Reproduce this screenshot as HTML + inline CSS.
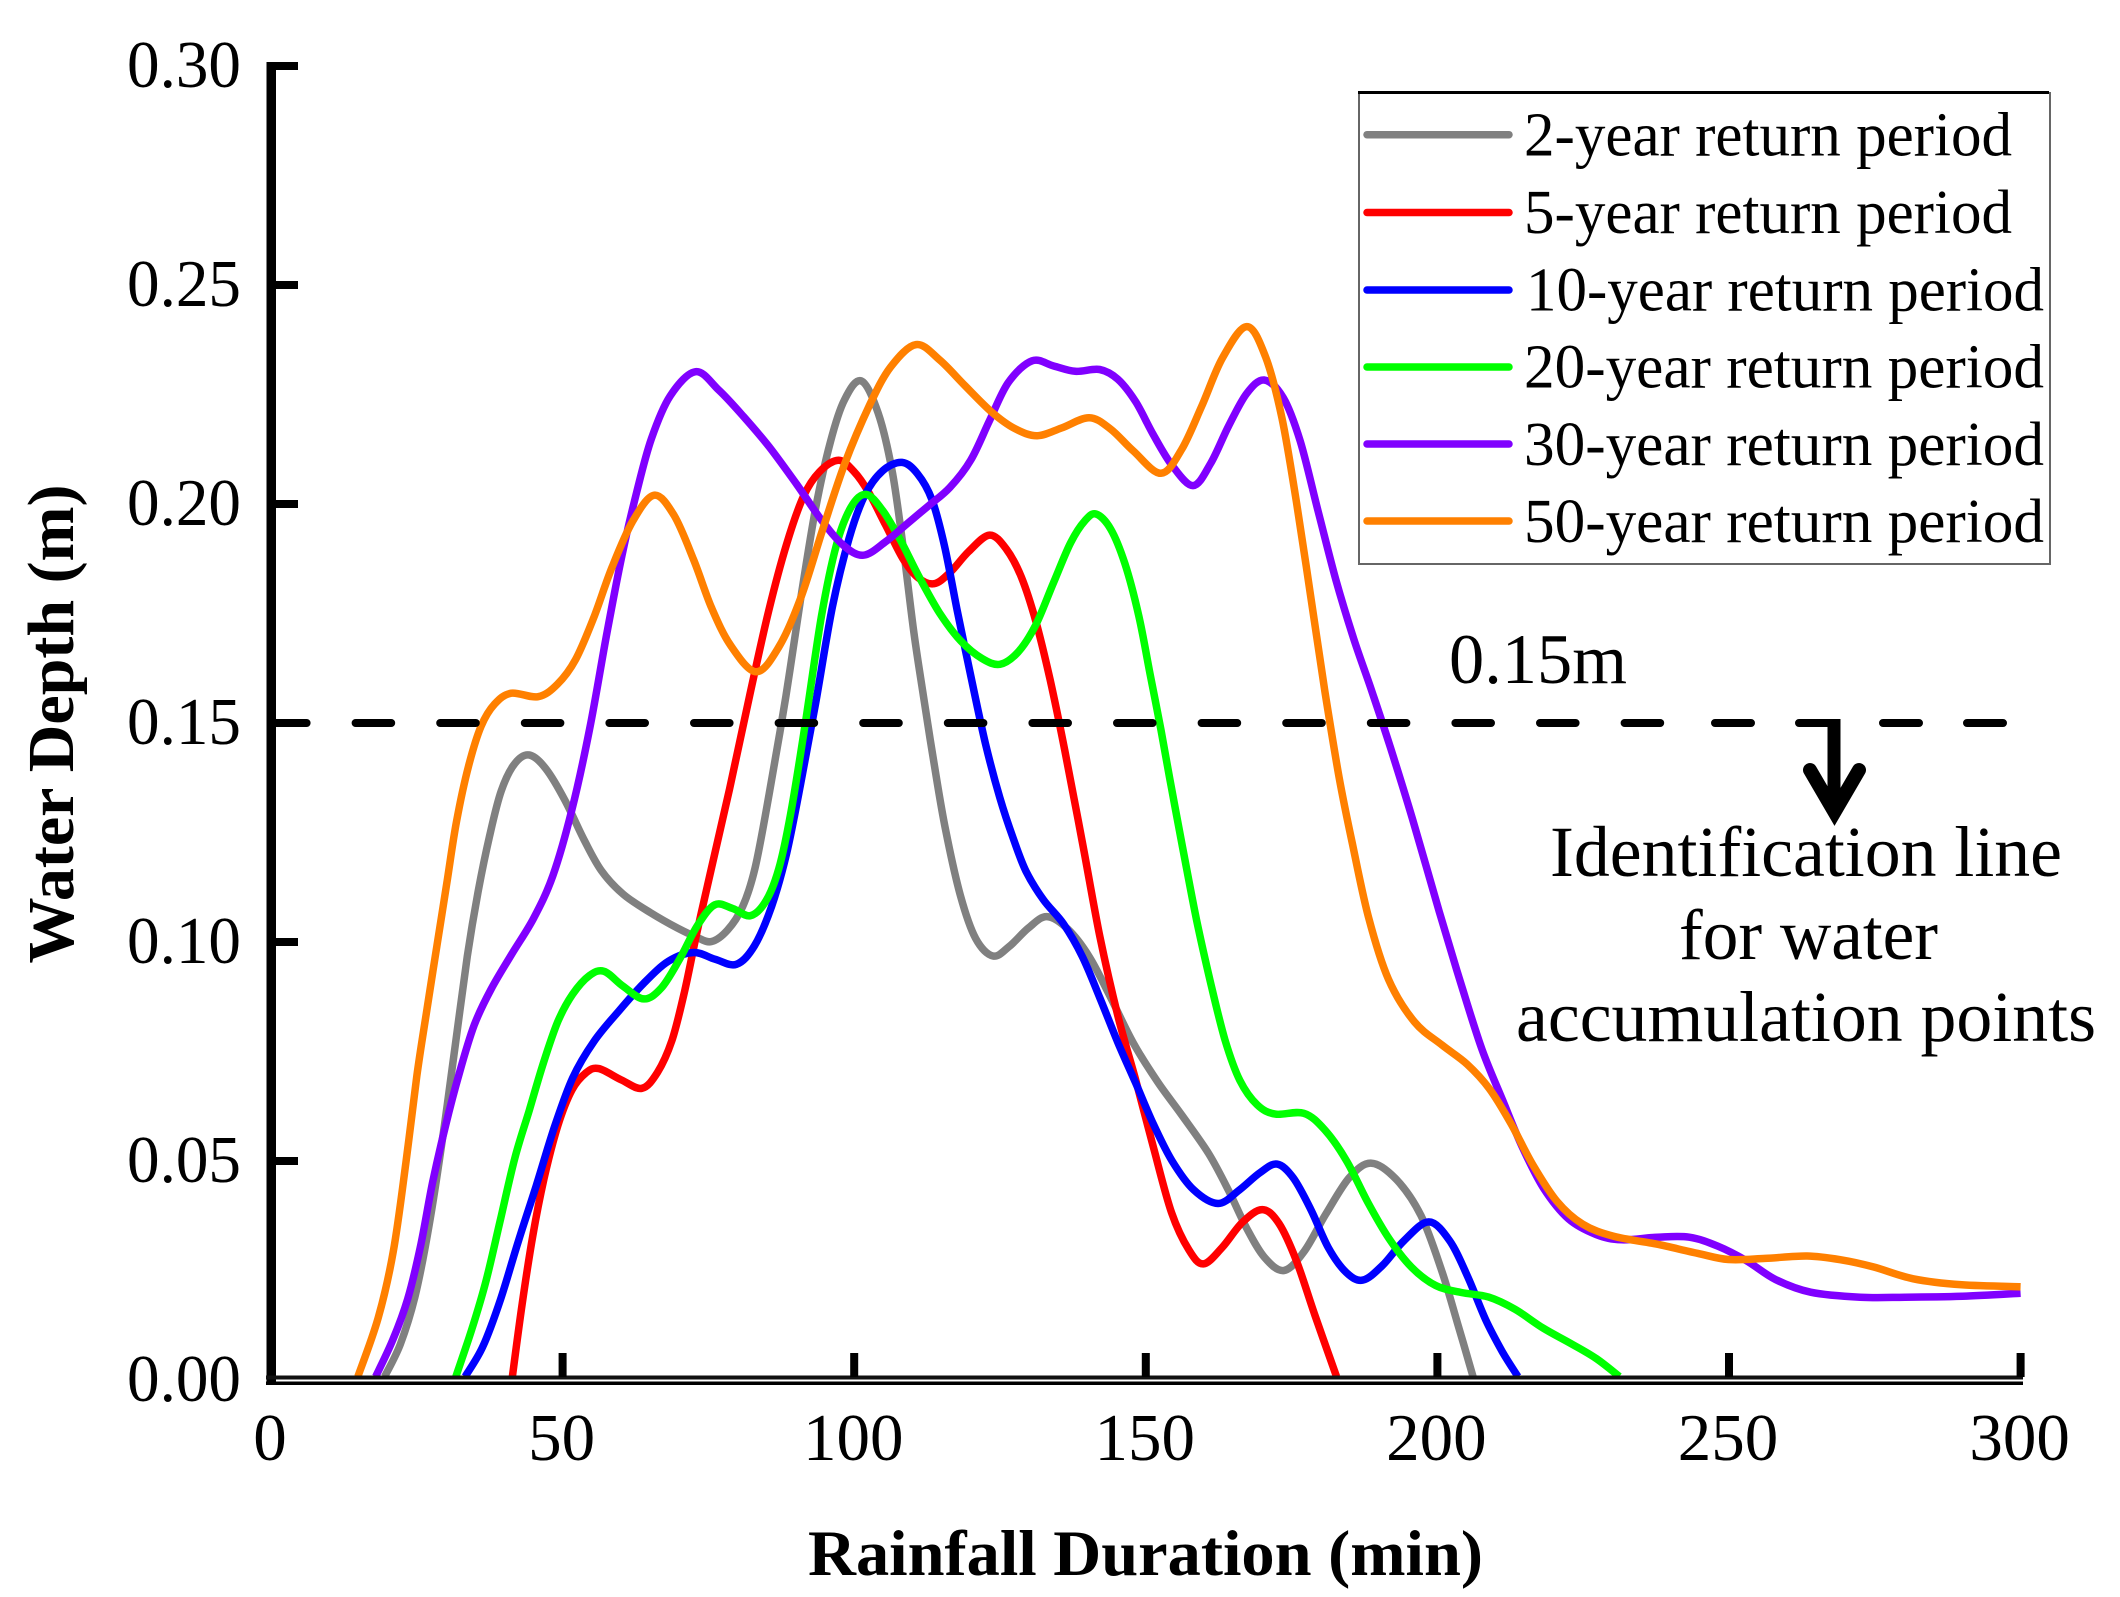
<!DOCTYPE html>
<html lang="en">
<head>
<meta charset="utf-8">
<title>Water Depth vs Rainfall Duration</title>
<style>
html,body{margin:0;padding:0;background:#fff;}
svg{display:block;}
text{font-family:"Liberation Serif",serif;fill:#000;}
</style>
</head>
<body>
<svg id="chart" xmlns="http://www.w3.org/2000/svg" width="2120" height="1597" viewBox="0 0 2120 1597">
  <rect x="0" y="0" width="2120" height="1597" fill="#fff"/>
  <g id="series" fill="none" stroke-width="7.5" stroke-linejoin="round" stroke-linecap="butt"></g>
  <g id="threshold"></g>
  <g id="axes"></g>

  <text x="808" y="1575" font-size="65" font-weight="bold" textLength="675" lengthAdjust="spacingAndGlyphs">Rainfall Duration (min)</text>
  <text transform="translate(73,724) rotate(-90)" text-anchor="middle" font-size="66" font-weight="bold">Water Depth (m)</text>

  <g>
    <rect x="1359" y="93" width="691" height="471" fill="#fff" stroke="#666" stroke-width="2"/>
    <rect x="1358" y="91" width="691" height="3" fill="#000"/>
    <line x1="1367" x2="1509" y1="134.7" y2="134.7" stroke="#808080" stroke-width="7.5" stroke-linecap="round"/>
    <line x1="1367" x2="1509" y1="212.5" y2="212.5" stroke="#ff0000" stroke-width="7.5" stroke-linecap="round"/>
    <line x1="1367" x2="1509" y1="290" y2="290" stroke="#0000ff" stroke-width="7.5" stroke-linecap="round"/>
    <line x1="1367" x2="1509" y1="367" y2="367" stroke="#00ff00" stroke-width="7.5" stroke-linecap="round"/>
    <line x1="1367" x2="1509" y1="444" y2="444" stroke="#8000ff" stroke-width="7.5" stroke-linecap="round"/>
    <line x1="1367" x2="1509" y1="521" y2="521" stroke="#ff8000" stroke-width="7.5" stroke-linecap="round"/>
    <text x="1524" y="155.5" font-size="62" textLength="488" lengthAdjust="spacingAndGlyphs">2-year return period</text>
    <text x="1524" y="233" font-size="62" textLength="488" lengthAdjust="spacingAndGlyphs">5-year return period</text>
    <text x="1526" y="310.5" font-size="62" textLength="518" lengthAdjust="spacingAndGlyphs">10-year return period</text>
    <text x="1524" y="387.5" font-size="62" textLength="520" lengthAdjust="spacingAndGlyphs">20-year return period</text>
    <text x="1524" y="465" font-size="62" textLength="520" lengthAdjust="spacingAndGlyphs">30-year return period</text>
    <text x="1524" y="542" font-size="62" textLength="520" lengthAdjust="spacingAndGlyphs">50-year return period</text>
  </g>

  <text x="1449" y="683" font-size="71" textLength="178" lengthAdjust="spacingAndGlyphs">0.15m</text>
  <g>
    <rect x="1827.5" y="719" width="13" height="90" fill="#000"/>
    <path d="M1810 770 L1834.5 812 L1859 770" fill="none" stroke="#000" stroke-width="14" stroke-linecap="round" stroke-linejoin="miter" stroke-miterlimit="6"/>
  </g>
  <text x="1550" y="876" font-size="72" textLength="512" lengthAdjust="spacingAndGlyphs">Identification line</text>
  <text x="1679" y="959" font-size="72" textLength="259" lengthAdjust="spacingAndGlyphs">for water</text>
  <text x="1516" y="1041" font-size="72" textLength="580" lengthAdjust="spacingAndGlyphs">accumulation points</text>
</svg>
<script>
// ---- chart data (minutes, metres) ----
const xTickValues = [0, 50, 100, 150, 200, 250, 300];
const xTickLabels = ['0', '50', '100', '150', '200', '250', '300'];
const yTickValues = [0, 0.05, 0.10, 0.15, 0.20, 0.25, 0.30];
const yTickLabels = ['0.00', '0.05', '0.10', '0.15', '0.20', '0.25', '0.30'];
const thresholdDepth = 0.15;

const t2 = [19.5,22.2,24.7,27.1,29.6,31.4,33.8,35.4,37.5,39.4,41.8,44.3,47,50.4,53.8,56.5,60.2,65.1,70,73.1,75.5,78.3,81,82.9,85.3,88.4,90.8,93.3,96,98.2,101.2,104.2,106.6,108.5,110.3,111.8,113.7,115.5,118.3,120.7,123.8,126.5,129.9,133,136.6,140.3,144,147.7,152,156.2,161.1,164.2,167.3,170.3,173.7,177.1,180.7,185,188.7,193,197.3,200.9,203.4,206.1];
const d2 = [.0008,.0075,.0181,.0344,.0564,.0744,.0988,.111,.1246,.1352,.1417,.1427,.1405,.1327,.1228,.116,.1107,.1066,.1029,.1009,.1001,.1021,.1078,.1151,.1327,.1564,.1784,.1996,.2151,.2249,.2281,.2221,.2083,.1895,.1691,.1569,.1406,.1259,.1094,.0997,.0968,.0984,.1037,.1058,.1037,.0972,.0874,.0768,.0679,.0605,.0515,.0434,.0344,.0271,.025,.0283,.0377,.0475,.0495,.0466,.0385,.0246,.0132,.0008];

const t5 = [41.4,43,44.9,46.7,49.2,51.6,54.1,56.2,60.2,63.6,66.3,68.8,70.9,73.1,75.2,78.6,82.2,85.3,88.4,91.4,93.9,97.3,100,102.3,105.4,108.5,110.9,113.7,116.4,119.5,123.2,126.2,128.7,131.1,133.6,136,139.1,142.1,145.2,148.3,151.3,154.4,157.5,159.9,163,166.6,170,172.8,175.8,178.9,182.7];
const d5 = [.0008,.0173,.0336,.0458,.0589,.067,.0707,.0711,.0683,.0666,.0695,.0768,.0882,.1029,.115,.1344,.1572,.176,.1914,.2029,.2078,.21,.2078,.2034,.1952,.1867,.1826,.1818,.1838,.1895,.1929,.1903,.1838,.174,.1602,.1447,.1233,.1005,.0825,.0687,.0532,.0369,.0287,.0265,.0295,.0369,.0389,.0369,.0279,.0149,.0008];

const t10 = [33.3,36.3,39.4,42.4,45.5,48.6,51.6,55.3,59.6,63.9,68.2,72.5,76.1,79.8,82.9,85.9,88.4,90.8,93.3,96.3,99.2,101.7,104.8,108.2,110.9,113.4,115.5,117.6,120.1,122.5,125,127.3,129.3,132.3,136,139.1,142.1,145.2,148.3,151.3,154.4,158.1,162.4,166,169.7,172.5,175.2,178.3,181.3,184.4,187.2,190.5,194.2,198.5,202.2,205.2,208.3,211.3,213.8];
const d10 = [.0008,.0067,.0181,.032,.0442,.0581,.0695,.0776,.0842,.0907,.0964,.0976,.096,.0949,.098,.1078,.1192,.136,.1531,.1784,.193,.2026,.2083,.2095,.2075,.2018,.1911,.1757,.1602,.1447,.1324,.1235,.116,.1094,.1045,.0972,.0874,.0768,.0679,.0581,.0499,.0426,.0403,.043,.0479,.0493,.0471,.0393,.0295,.0238,.0228,.0254,.0324,.0361,.0328,.0238,.0132,.0059,.0008];

const t20 = [31.7,34.5,36.9,39.4,41.8,44.3,46.7,49.2,51.6,54.7,57.1,60.2,63.9,66.9,70,73.1,76.1,79.2,82.2,85,87.1,89,91.4,94.5,96.9,99.4,102,104.8,107.9,110.9,114.6,118.3,122,125,128.1,131.1,134.2,137.2,139.7,141.5,144,146.4,148.9,150.7,152.6,154.4,156.2,158.7,161.1,163.6,166,169.1,172.2,177.1,180.7,184.4,188.1,191.7,195.4,199.7,204,208.9,213.2,218.1,223,227.3,231.2];
const d20 = [.0008,.0116,.0222,.0369,.0515,.0613,.0727,.0825,.0882,.0931,.0933,.0899,.087,.0886,.0956,.1045,.1085,.1078,.106,.1086,.116,.1278,.1474,.1768,.1914,.2004,.2022,.1993,.192,.1838,.1748,.1683,.1642,.1634,.1655,.1716,.1822,.192,.1969,.1977,.1952,.1871,.1748,.161,.1488,.1349,.1225,.1045,.0907,.0768,.0679,.0621,.0607,.0609,.0577,.0507,.0401,.032,.0255,.021,.0199,.0193,.0165,.0116,.0083,.0051,.0008];

const t30 = [17.95,21,23.5,25.6,27.7,29.9,32.3,34.8,37.6,41.2,45.2,48.3,51.6,54.7,57.5,60.2,62.7,65.1,68.2,72.8,76.7,81,85.3,90.2,94.5,98.2,101.6,105.4,109.1,112.8,116.4,120.1,123.2,126.2,130.5,134.2,137.9,142.1,145.2,148.3,151.3,154.4,158.1,161.1,164.2,167.3,170.3,173.7,176.4,179.5,182.6,185.6,188.7,191.7,195.5,200.6,204,207.7,211.3,214.4,218.1,222.4,227.3,231.6,237.7,243.2,248.1,253,257.9,263.4,272.5,280.2,290,300];
const d30 = [.0008,.0091,.0181,.0295,.0458,.0581,.0703,.0817,.0891,.0972,.1054,.114,.1295,.1482,.1702,.189,.2029,.2151,.2257,.2302,.2265,.22,.2135,.2045,.1959,.1898,.1883,.1911,.1956,.1997,.2034,.2095,.2189,.2287,.2327,.2315,.2303,.2307,.2291,.2238,.2156,.2083,.2042,.2083,.2181,.2262,.2283,.2254,.2156,.1985,.1822,.1691,.1577,.1455,.1295,.1054,.0907,.0744,.0638,.0532,.0434,.0361,.0328,.032,.0326,.0326,.0308,.0275,.0226,.0197,.0189,.0189,.019,.0198];

const t50 = [14.9,18.57,21,23.2,25,26.8,28.4,30.2,31.7,33.9,36,38.2,41.2,45.8,49.2,52.2,55.3,58.4,62,65.7,69.1,72.5,75.5,78.6,83.2,87.1,90.8,94.5,98.2,103,106,110.6,114.6,118.9,123.8,127.5,131.4,135.4,140.3,144,147.7,152.6,156.2,159.6,163,167.3,170.6,173.4,175.8,178.3,180.7,183.2,185.3,188.1,191.4,196,200.9,205.2,208.9,212.6,216.2,220.5,224.8,229.7,237.7,245,249.9,256,263.4,269.5,274.4,281.4,289.5,300];
const d50 = [.0008,.014,.0279,.0499,.0703,.085,.0988,.1135,.1278,.1409,.1499,.1548,.1568,.156,.1584,.1637,.1735,.1857,.1972,.202,.1988,.1874,.176,.167,.1617,.1662,.1776,.1939,.2094,.2238,.2319,.2364,.2335,.227,.2205,.2168,.2156,.2172,.2197,.2177,.2119,.207,.2115,.2221,.2344,.2405,.2352,.2205,.2009,.1789,.1569,.1365,.1233,.105,.0907,.0809,.0764,.0723,.067,.0589,.0491,.0401,.0352,.0326,.0312,.0287,.0275,.0277,.0283,.0275,.0262,.0227,.0216,.0213];

// ---- axis functions ----
function xScale(v) { return 271 + v * 5.832; }
function yScale(v) { return 1380 - v * 4380; }

const NS = 'http://www.w3.org/2000/svg';
function make(tag, parent) {
  const el = document.createElementNS(NS, tag);
  parent.appendChild(el);
  return el;
}

// Smooth reading noise on the slopes; local peaks and troughs stay where they were read.
function easePoints(p) {
  return p.map(function (q, i) {
    if (i === 0 || i === p.length - 1) return q;
    const a = p[i - 1], c = p[i + 1];
    if ((q[1] - a[1]) * (c[1] - q[1]) <= 0) return q;
    return [(a[0] + 4 * q[0] + c[0]) / 6, (a[1] + 4 * q[1] + c[1]) / 6];
  });
}

function smoothPath(ts, ds) {
  const p = easePoints(ts.map(function (t, i) { return [xScale(t), yScale(ds[i])]; }));
  let d = 'M' + p[0][0].toFixed(1) + ' ' + p[0][1].toFixed(1);
  for (let i = 0; i < p.length - 1; i++) {
    const a = p[Math.max(i - 1, 0)], b = p[i], c = p[i + 1], e = p[Math.min(i + 2, p.length - 1)];
    const c1x = b[0] + (c[0] - a[0]) / 6, c1y = b[1] + (c[1] - a[1]) / 6;
    const c2x = c[0] - (e[0] - b[0]) / 6, c2y = c[1] - (e[1] - b[1]) / 6;
    d += 'C' + c1x.toFixed(1) + ' ' + c1y.toFixed(1) + ' ' + c2x.toFixed(1) + ' ' + c2y.toFixed(1) + ' ' + c[0].toFixed(1) + ' ' + c[1].toFixed(1);
  }
  return d;
}

// ---- series ----
const seriesGroup = document.getElementById('series');
const line2 = make('path', seriesGroup);


line2.setAttribute('stroke', '#808080');
line2.setAttribute('d', smoothPath(t2, d2));
const line5 = make('path', seriesGroup);


line5.setAttribute('stroke', '#ff0000');
line5.setAttribute('d', smoothPath(t5, d5));
const line10 = make('path', seriesGroup);


line10.setAttribute('stroke', '#0000ff');
line10.setAttribute('d', smoothPath(t10, d10));
const line20 = make('path', seriesGroup);


line20.setAttribute('stroke', '#00ff00');
line20.setAttribute('d', smoothPath(t20, d20));
const line30 = make('path', seriesGroup);


line30.setAttribute('stroke', '#8000ff');
line30.setAttribute('d', smoothPath(t30, d30));
const line50 = make('path', seriesGroup);


line50.setAttribute('stroke', '#ff8000');
line50.setAttribute('d', smoothPath(t50, d50));

// ---- threshold dashed line (the source line has a small break near the arrow) ----
const thresholdGroup = document.getElementById('threshold');
const dashA = make('line', thresholdGroup);


dashA.setAttribute('x1', 271);
dashA.setAttribute('x2', 1666);
dashA.setAttribute('y1', yScale(thresholdDepth));
dashA.setAttribute('y2', yScale(thresholdDepth));
dashA.setAttribute('stroke', '#000');
dashA.setAttribute('stroke-width', 8);
dashA.setAttribute('stroke-linecap', 'round');
dashA.setAttribute('stroke-dasharray', '35.6 49');
const dashB = make('line', thresholdGroup);


dashB.setAttribute('x1', 1715);
dashB.setAttribute('x2', 2004);
dashB.setAttribute('y1', yScale(thresholdDepth));
dashB.setAttribute('y2', yScale(thresholdDepth));
dashB.setAttribute('stroke', '#000');
dashB.setAttribute('stroke-width', 8);
dashB.setAttribute('stroke-linecap', 'round');
dashB.setAttribute('stroke-dasharray', '36 48');

// ---- axes ----
const axesGroup = document.getElementById('axes');
const yAxis = make('rect', axesGroup);


yAxis.setAttribute('x', 266.5);
yAxis.setAttribute('y', 62);
yAxis.setAttribute('width', 9.5);
yAxis.setAttribute('height', 1323);
yAxis.setAttribute('fill', '#000');
const xAxisTop = make('rect', axesGroup);


xAxisTop.setAttribute('x', 266);
xAxisTop.setAttribute('y', 1375.5);
xAxisTop.setAttribute('width', 1757);
xAxisTop.setAttribute('height', 4);
xAxisTop.setAttribute('fill', '#111');
const xAxisBottom = make('rect', axesGroup);


xAxisBottom.setAttribute('x', 266);
xAxisBottom.setAttribute('y', 1381.5);
xAxisBottom.setAttribute('width', 1757);
xAxisBottom.setAttribute('height', 3.5);
xAxisBottom.setAttribute('fill', '#000');

xTickValues.forEach(function (v, i) {
  if (v > 0) {
    const tick = make('rect', axesGroup);
    
    
    tick.setAttribute('x', xScale(v) - 4);
    tick.setAttribute('y', 1353);
    tick.setAttribute('width', 8);
    tick.setAttribute('height', 24);
    tick.setAttribute('fill', '#000');
  }
  const label = make('text', axesGroup);
  
  
  label.setAttribute('x', xScale(v) - 1);
  label.setAttribute('y', 1460);
  label.setAttribute('text-anchor', 'middle');
  label.setAttribute('font-size', 67);
  label.textContent = xTickLabels[i];
});

yTickValues.forEach(function (v, i) {
  if (v > 0) {
    const tick = make('rect', axesGroup);
    
    
    tick.setAttribute('x', 271);
    tick.setAttribute('y', yScale(v) - 4);
    tick.setAttribute('width', 27);
    tick.setAttribute('height', 8);
    tick.setAttribute('fill', '#000');
  }
  const label = make('text', axesGroup);
  
  
  label.setAttribute('x', 241);
  label.setAttribute('y', yScale(v) + 21);
  label.setAttribute('text-anchor', 'end');
  label.setAttribute('font-size', 67);
  label.setAttribute('textLength', 114);
  label.setAttribute('lengthAdjust', 'spacingAndGlyphs');
  label.textContent = yTickLabels[i];
});
</script>
</body>
</html>
